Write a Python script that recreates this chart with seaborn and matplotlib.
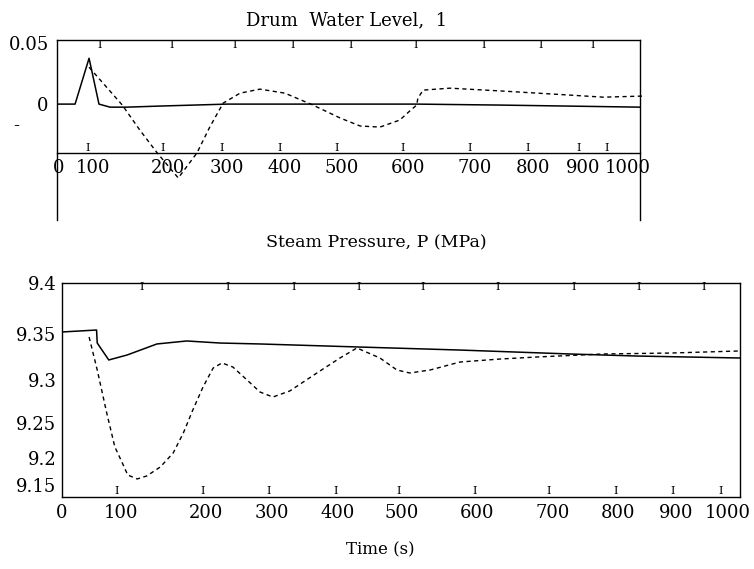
import numpy as np
import pandas as pd
import seaborn as sns
import matplotlib.pyplot as plt
import matplotlib.transforms as mtransforms

# ---- data ----
# drum water level
lvl_solid_t = [0, 31, 55, 72, 91, 120, 177, 292, 417, 617, 760, 1000]
lvl_solid_y = [0, 0, 0.0377, 0, -0.0025, -0.0025, -0.0016, 0,
               0, 0, -0.0008, -0.0025]
lvl_dash_t = [55, 79, 112, 142, 172, 208, 240, 262, 285, 314, 348, 391,
              439, 486, 520, 554, 588, 605, 617, 619, 628, 674, 765, 880,
              937, 1005]
lvl_dash_y = [0.0303, 0.0172, -0.0008, -0.0213, -0.0402, -0.0607, -0.0402,
              -0.0189, 0.0008, 0.009, 0.0123, 0.009, -0.0008, -0.0115,
              -0.018, -0.0189, -0.0131, -0.0057, -0.0008, 0.0049, 0.0115,
              0.0131, 0.0107, 0.0074, 0.0057, 0.0066]

# steam pressure
p_solid_t = [0, 51, 52, 69, 96, 140, 184, 233, 292, 440, 587, 749, 848, 1000]
p_solid_y = [9.3428, 9.3451, 9.3299, 9.3101, 9.3159, 9.3288, 9.3323, 9.3299,
             9.3288, 9.3252, 9.3217, 9.3171, 9.3147, 9.3124]
p_dash_t = [40, 52, 66, 78, 89, 97, 111, 125, 145, 164, 179, 193, 208, 223,
            236, 252, 273, 292, 311, 336, 376, 410, 435, 469, 494, 513, 543,
            587, 646, 701, 798, 897, 999]
p_dash_y = [9.3369, 9.2984, 9.2482, 9.2085, 9.1898, 9.1757, 9.1711, 9.1746,
            9.1851, 9.2014, 9.2248, 9.2517, 9.2785, 9.3007, 9.3066, 9.3019,
            9.2867, 9.2727, 9.2668, 9.2739, 9.2949, 9.3124, 9.3241, 9.3124,
            9.2984, 9.2949, 9.2984, 9.3077, 9.3112, 9.3136, 9.3171, 9.3182,
            9.3206]

# tick labels (placed where they sit in the original)
xlabels = ['0', '100', '200', '300', '400', '500', '600', '700', '800', '900', '1000']
top_xtick_pos = [2, 62, 190, 292, 391, 489, 602, 717, 816, 902, 979]
bot_xtick_pos = [0, 87, 212, 310, 406, 501, 612, 724, 820, 906, 982]
top_ytick_pos = [0.05, 0, -0.0164]
top_ylabels = ['0.05', '0', '-     ']
bot_ytick_pos = [9.4, 9.3404, 9.2867, 9.2365, 9.1956, 9.164]
bot_ylabels = ['9.4', '9.35', '9.3', '9.25', '9.2', '9.15']

# little "I" marks inside the boxes
top_I_up = [74, 197, 305, 405, 503, 616, 731, 830, 919]
top_I_dn = [53, 182, 283, 382, 480, 593, 707, 808, 894, 943]
bot_I_up = [118, 245, 341, 438, 532, 643, 754, 850, 947]
bot_I_dn = [81, 208, 305, 403, 497, 608, 718, 816, 901, 971]

sns.set_theme(style="white")
plt.rcParams['font.family'] = ['DejaVu Serif']
plt.rcParams['text.color'] = 'black'

fig = plt.figure(figsize=(7.54, 5.69), dpi=100)
ax1 = fig.add_axes([0.0756, 0.7311, 0.7732, 0.1986])
ax2 = fig.add_axes([0.0822, 0.1265, 0.8992, 0.3761])

lw = 1.1
d1 = pd.DataFrame({'t': lvl_solid_t, 'y': lvl_solid_y})
d2 = pd.DataFrame({'t': lvl_dash_t, 'y': lvl_dash_y})
sns.lineplot(data=d1, x='t', y='y', ax=ax1, color='black', lw=lw, sort=False)
l = sns.lineplot(data=d2, x='t', y='y', ax=ax1, color='black', lw=1.0,
                 sort=False).lines[-1]
l.set_dashes((3, 2.5))
l.set_clip_on(False)

d3 = pd.DataFrame({'t': p_solid_t, 'y': p_solid_y})
d4 = pd.DataFrame({'t': p_dash_t, 'y': p_dash_y})
sns.lineplot(data=d3, x='t', y='y', ax=ax2, color='black', lw=lw, sort=False)
l = sns.lineplot(data=d4, x='t', y='y', ax=ax2, color='black', lw=1.0,
                 sort=False).lines[-1]
l.set_dashes((3, 2.5))

ax1.set_xlim(0, 1000)
ax1.set_ylim(-0.0402, 0.0527)
ax2.set_xlim(0, 1000)
ax2.set_ylim(9.15, 9.4)

for ax in (ax1, ax2):
    ax.set_xlabel('')
    ax.set_ylabel('')
    for s in ax.spines.values():
        s.set_color('black')
        s.set_linewidth(1.0)
    ax.tick_params(axis='both', which='major', length=0, labelsize=13,
                   colors='black')
    ax.tick_params(axis='both', which='minor', length=4, direction='in',
                   color='black', width=0.8)

ax1.set_xticks(top_xtick_pos, xlabels)
ax1.set_yticks(top_ytick_pos, top_ylabels)
ax1.set_yticks([-0.0164], minor=True)
ax1.tick_params(axis='x', pad=4)
ax1.tick_params(axis='y', pad=6)
# side spines run down below the box
ax1.spines['left'].set_bounds(-0.0951, 0.0527)
ax1.spines['right'].set_bounds(-0.0951, 0.0527)

ax2.set_xticks(bot_xtick_pos, xlabels)
ax2.set_yticks(bot_ytick_pos, bot_ylabels)
ax2.set_yticks([9.4, 9.193], minor=True)
ax2.tick_params(axis='x', pad=5)
ax2.tick_params(axis='y', pad=4)

def put_marks(ax, xs, yfrac):
    tr = mtransforms.blended_transform_factory(ax.transData, ax.transAxes)
    for x in xs:
        ax.text(x, yfrac, 'I', transform=tr, ha='center', va='center',
                fontsize=8, color='black')

put_marks(ax1, top_I_up, 0.955)
put_marks(ax1, top_I_dn, 0.04)
put_marks(ax2, bot_I_up, 0.98)
put_marks(ax2, bot_I_dn, 0.03)

fig.text(0.46, 0.965, 'Drum  Water Level,  1', ha='center', va='center',
         fontsize=13, color='black')
fig.text(0.499, 0.573, 'Steam Pressure, P (MPa)', ha='center', va='center',
         fontsize=12.5, color='black')
fig.text(0.504, 0.033, 'Time (s)', ha='center', va='center', fontsize=12,
         color='black')

fig.savefig('out.png', dpi=100)
